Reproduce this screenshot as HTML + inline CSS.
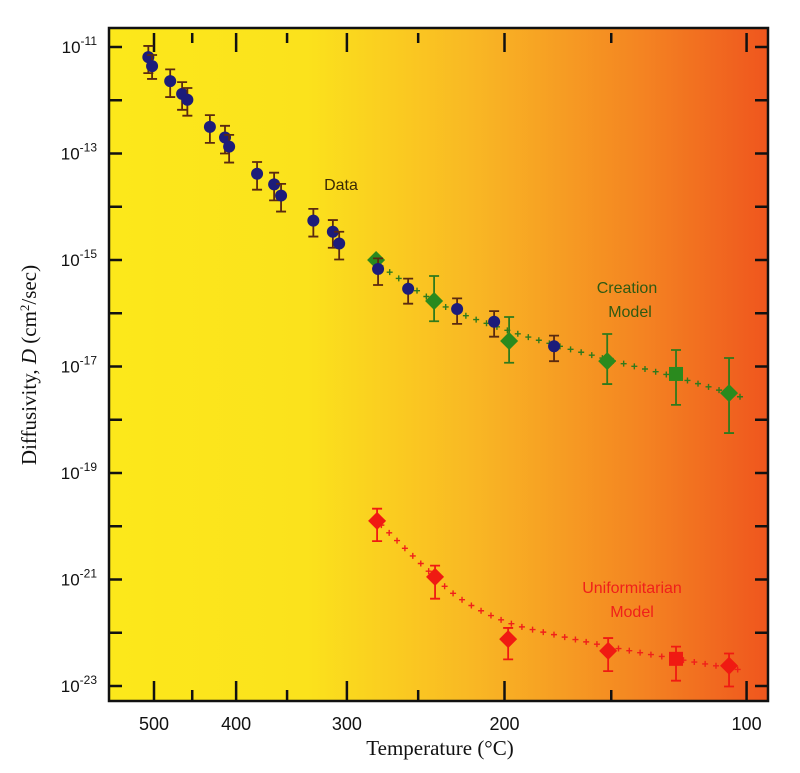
<!DOCTYPE html>
<html><head><meta charset="utf-8"><style>
html,body{margin:0;padding:0;background:#fff;width:800px;height:773px;overflow:hidden}
svg{display:block}
</style></head><body>
<svg id="chart" width="800" height="773" viewBox="0 0 800 773" xmlns="http://www.w3.org/2000/svg">
<defs>
<linearGradient id="bg" x1="0" y1="0" x2="1" y2="0">
<stop offset="0" stop-color="#fce81b"/>
<stop offset="0.3" stop-color="#fbe21c"/>
<stop offset="0.55" stop-color="#f9b824"/>
<stop offset="0.8" stop-color="#f48622"/>
<stop offset="1" stop-color="#ef561e"/>
</linearGradient>
</defs>
<rect x="109" y="28" width="659" height="673" fill="url(#bg)"/>
<g id="ticks"></g>
<g id="curves"></g>
<g id="marks"></g>
<rect x="109" y="28" width="659" height="673" fill="none" stroke="#111" stroke-width="2.5"/>
<text x="341" y="190" font-family="Liberation Sans, sans-serif" font-size="16" fill="#3a2a05" text-anchor="middle">Data</text>
<text font-family="Liberation Sans, sans-serif" font-size="16" fill="#2f5a12" text-anchor="middle"><tspan x="627" y="293">Creation</tspan><tspan x="630" y="317">Model</tspan></text>
<text font-family="Liberation Sans, sans-serif" font-size="16" fill="#f0201a" text-anchor="middle"><tspan x="632" y="593">Uniformitarian</tspan><tspan x="632" y="617">Model</tspan></text>
<text x="440" y="755" font-family="Liberation Serif, serif" font-size="21" fill="#111" text-anchor="middle">Temperature (°C)</text>
<text transform="translate(36,365) rotate(-90)" font-family="Liberation Serif, serif" font-size="21" fill="#111" text-anchor="middle">Diffusivity, <tspan font-style="italic">D</tspan> (cm<tspan dy="-7" font-size="13">2</tspan><tspan dy="7">/sec)</tspan></text>
</svg>
<script>
// ---- data ----
const xTickLabels = [500, 400, 300, 200, 100];
const xMinorTicks = [450, 350, 250, 150];
const yTickExps = [-11, -12, -13, -14, -15, -16, -17, -18, -19, -20, -21, -22, -23];
const yLabelExps = [-11, -13, -15, -17, -19, -21, -23];

const dataT = [508, 502.7, 478, 462.6, 456, 429, 412, 407.5, 378.5, 362, 355.5, 327, 311, 306, 277, 256.5, 226.2, 205.5, 175.4];
const dataLogD = [-11.19, -11.36, -11.64, -11.88, -11.99, -12.50, -12.70, -12.87, -13.38, -13.58, -13.79, -14.26, -14.47, -14.69, -15.17, -15.54, -15.92, -16.16, -16.62];
const dataErrUp = [0.21, 0.21, 0.22, 0.22, 0.22, 0.22, 0.22, 0.22, 0.22, 0.22, 0.22, 0.22, 0.22, 0.22, 0.2, 0.19, 0.2, 0.2, 0.2];
const dataErrDown = [0.3, 0.24, 0.3, 0.3, 0.3, 0.3, 0.3, 0.3, 0.3, 0.3, 0.3, 0.3, 0.3, 0.3, 0.3, 0.28, 0.28, 0.28, 0.28];

const creationT = [278.4, 240.0, 197.6, 151.7, 124.5, 105.8];
const creationLogD = [-15.00, -15.77, -16.52, -16.90, -17.14, -17.50];
const creationErrUp = [0, 0.47, 0.45, 0.51, 0.45, 0.66];
const creationErrDown = [0, 0.38, 0.41, 0.43, 0.58, 0.75];
const creationShape = ['d', 'd', 'd', 'd', 's', 'd'];
const creationCurveT = [278.4, 272.1, 235.1, 196.1, 155.6, 124.5, 99.8];
const creationCurveLogD = [-15.04, -15.17, -15.85, -16.35, -16.82, -17.20, -17.61];

const uniT = [277.7, 239.4, 198.1, 151.3, 124.5, 105.8];
const uniLogD = [-19.90, -20.95, -22.12, -22.34, -22.49, -22.62];
const uniErrUp = [0.23, 0.21, 0.21, 0.24, 0.23, 0.23];
const uniErrDown = [0.38, 0.41, 0.38, 0.38, 0.41, 0.39];
const uniShape = ['d', 'd', 'd', 'd', 's', 'd'];
const uniCurveT = [277.7, 250.1, 225.6, 200.2, 174.9, 145.5, 120.1, 99.8];
const uniCurveLogD = [-19.90, -20.65, -21.33, -21.78, -22.04, -22.31, -22.53, -22.72];

// ---- axes ----
const NS = 'http://www.w3.org/2000/svg';
function xScale(t) { return 154 + 427.4 * (1000 / (t + 273.15) - 1000 / 773.15); }
function yScale(ld) { return 47 + (-11 - ld) * 53.25; }
function mk(tag, attrs, parent) {
  const e = document.createElementNS(NS, tag);
  for (const k in attrs) e.setAttribute(k, attrs[k]);
  parent.appendChild(e);
  return e;
}
const ticks = document.getElementById('ticks');
const svg = document.getElementById('chart');
xTickLabels.forEach(t => {
  const x = xScale(t);
  const a = mk('line', {x1: x, x2: x, y1: 701, y2: 681, stroke: '#111', 'stroke-width': 2.5}, ticks);
  
  
  const b = mk('line', {x1: x, x2: x, y1: 33, y2: 52, stroke: '#111', 'stroke-width': 2.5}, ticks);
  
  
  const l = mk('text', {x: x, y: 730, 'font-family': 'Liberation Sans, sans-serif', 'font-size': 18, fill: '#111', 'text-anchor': 'middle'}, svg);
  l.textContent = t;
  
  
});
xMinorTicks.forEach(t => {
  const x = xScale(t);
  const a = mk('line', {x1: x, x2: x, y1: 701, y2: 690, stroke: '#111', 'stroke-width': 2.5}, ticks);
  
  
  const b = mk('line', {x1: x, x2: x, y1: 33, y2: 43, stroke: '#111', 'stroke-width': 2.5}, ticks);
  
  
});
yTickExps.forEach(e => {
  const y = yScale(e);
  const a = mk('line', {x1: 109, x2: 122, y1: y, y2: y, stroke: '#111', 'stroke-width': 2.5}, ticks);
  
  
  const b = mk('line', {x1: 755, x2: 768, y1: y, y2: y, stroke: '#111', 'stroke-width': 2.5}, ticks);
  
  
});
yLabelExps.forEach(e => {
  const y = yScale(e);
  const l = mk('text', {x: 97, y: y + 6, 'font-family': 'Liberation Sans, sans-serif', 'font-size': 17, fill: '#111', 'text-anchor': 'end'}, svg);
  
  
  const t1 = mk('tspan', {}, l); t1.textContent = '10';
  const t2 = mk('tspan', {dy: -8, 'font-size': 12}, l); t2.textContent = String(e);
});

// ---- curves ----
const curves = document.getElementById('curves');
function drawCurve(Ts, Ls, color, name) {
  const pts = Ts.map((t, i) => [xScale(t), yScale(Ls[i])]);
  let d = 'M' + pts[0][0] + ',' + pts[0][1];
  for (let i = 0; i < pts.length - 1; i++) {
    const p0 = pts[Math.max(0, i - 1)], p1 = pts[i], p2 = pts[i + 1], p3 = pts[Math.min(pts.length - 1, i + 2)];
    const c1 = [p1[0] + (p2[0] - p0[0]) / 6, p1[1] + (p2[1] - p0[1]) / 6];
    const c2 = [p2[0] - (p3[0] - p1[0]) / 6, p2[1] - (p3[1] - p1[1]) / 6];
    d += ' C' + c1 + ' ' + c2 + ' ' + p2;
  }
  const path = mk('path', {d: d, fill: 'none', stroke: 'none'}, curves);
  
  
  const len = path.getTotalLength();
  for (let s = 6; s < len; s += 11) {
    const p = path.getPointAtLength(s);
    const g = mk('path', {d: `M${p.x - 3},${p.y}h6M${p.x},${p.y - 3}v6`, stroke: color, 'stroke-width': 1.4}, curves);
    
    
  }
}
drawCurve(creationCurveT, creationCurveLogD, '#2f7a1c', 'creation-model-curve');
drawCurve(uniCurveT, uniCurveLogD, '#f0201a', 'uniformitarian-model-curve');

// ---- marks ----
const marks = document.getElementById('marks');
function errBar(x, ld, up, dn, color, name) {
  if (!up && !dn) return;
  const y1 = yScale(ld + up), y2 = yScale(ld - dn);
  const g = mk('path', {d: `M${x},${y1}V${y2}M${x - 5},${y1}h10M${x - 5},${y2}h10`, stroke: color, 'stroke-width': 1.8, fill: 'none'}, marks);
  
  
}
function series(Ts, Ls, U, D, shapes, fill, barColor, name) {
  Ts.forEach((t, i) => {
    const x = xScale(t), y = yScale(Ls[i]);
    errBar(x, Ls[i], U[i], D[i], barColor, name + '-error-bar');
    let m;
    if (shapes[i] === 's') m = mk('rect', {x: x - 7, y: y - 7, width: 14, height: 14, fill: fill}, marks);
    else m = mk('path', {d: `M${x},${y - 9}L${x + 9},${y}L${x},${y + 9}L${x - 9},${y}Z`, fill: fill}, marks);
    
    
  });
}
series(creationT, creationLogD, creationErrUp, creationErrDown, creationShape, '#2a8a1e', '#2f7a1c', 'creation');
series(uniT, uniLogD, uniErrUp, uniErrDown, uniShape, '#f01a12', '#f01a12', 'uniformitarian');
dataT.forEach((t, i) => {
  const x = xScale(t), y = yScale(dataLogD[i]);
  errBar(x, dataLogD[i], dataErrUp[i], dataErrDown[i], '#5a2a10', 'data-error-bar');
  const c = mk('circle', {cx: x, cy: y, r: 6, fill: '#1c1c7a'}, marks);
  
  
});
</script>
</body></html>
